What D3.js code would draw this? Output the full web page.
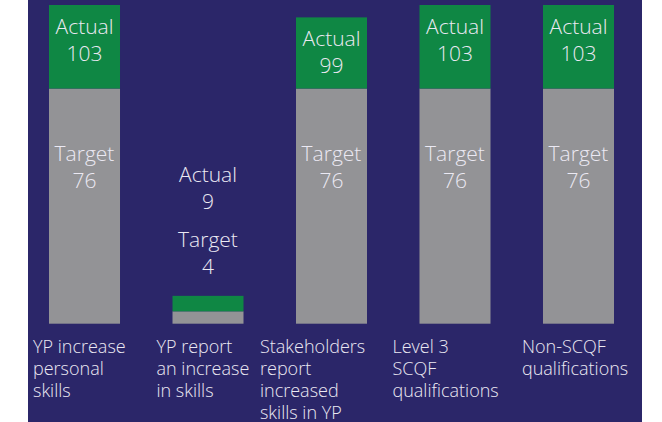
<!DOCTYPE html>
<html>
<head>
<meta charset="utf-8">
<script src="https://cdn.jsdelivr.net/npm/d3@7"></script>
<style>
	html, body { margin: 0; padding: 0; background: #ffffff; }
	svg { display: block; }
	text { font-family: "Open Sans", "Lato", sans-serif; fill: #ebe9f3; }
</style>
</head>
<body>
<div id="chart"></div>
<script>
// data
const categories = [
	["YP increase", "personal", "skills"],
	["YP report", "an increase", "in skills"],
	["Stakeholders", "report", "increased", "skills in YP"],
	["Level 3", "SCQF", "qualifications"],
	["Non-SCQF", "qualifications"]
];
const targetValues = [76, 4, 76, 76, 76];
const actualValues = [103, 9, 99, 103, 103];

const colors = { bg: "#2b2669", actual: "#0f8744", target: "#939396" };

(function() {
	const width = 662, height = 422;
	const svg = d3.select("#chart").append("svg")
		.attr("width", width).attr("height", height);

	svg.append("rect")
		.attr("x", 28).attr("y", 0)
		.attr("width", 614).attr("height", height)
		.attr("fill", colors.bg);

	const idx = d3.range(categories.length);
	const x = d3.scaleBand().domain(idx).range([49, 614]).paddingInner(0.425).paddingOuter(0);
	const y = d3.scaleLinear().domain([0, 103]).range([323.7, 5]);

	const bars = svg.append("g").selectAll("g").data(idx).join("g");

	// target (gray) from zero, actual (green) stacked on top up to the actual value
	bars.append("rect")
		.attr("x", i => x(i)).attr("width", x.bandwidth())
		.attr("y", i => y(targetValues[i]))
		.attr("height", i => y(0) - y(targetValues[i]))
		.attr("fill", colors.target);

	bars.append("rect")
		.attr("x", i => x(i)).attr("width", x.bandwidth())
		.attr("y", i => y(actualValues[i]))
		.attr("height", i => y(targetValues[i]) - y(actualValues[i]))
		.attr("fill", colors.actual);

	const fs = 21, lh = 27;
	idx.forEach(i => {
		const cx = x(i) + x.bandwidth() / 2;
		const g = svg.append("g").attr("text-anchor", "middle").style("font-size", fs + "px").style("font-weight", 300);
		let aY, tY;
		if (targetValues[i] < 20) {
			// small bar: labels sit above it
			aY = 181.7; tY = 246.7;
		} else {
			aY = y(actualValues[i]) + 29;
			tY = y(targetValues[i]) + 72;
		}
		g.append("text").attr("x", cx).attr("y", aY).text("Actual");
		g.append("text").attr("x", cx).attr("y", aY + lh).text(actualValues[i]);
		g.append("text").attr("x", cx).attr("y", tY).text("Target");
		g.append("text").attr("x", cx).attr("y", tY + lh).text(targetValues[i]);
	});

	const labelOffsets = [-16, -16, -36, -27, -21];
	idx.forEach(i => {
		const lx = x(i) + labelOffsets[i];
		const t = svg.append("text")
			.attr("x", lx).attr("y", 353)
			.style("font-size", "18px").style("font-weight", 300);
		categories[i].forEach((line, k) => {
			t.append("tspan").attr("x", lx).attr("y", 353 + k * 22).text(line);
		});
	});
})();
</script>
</body>
</html>
